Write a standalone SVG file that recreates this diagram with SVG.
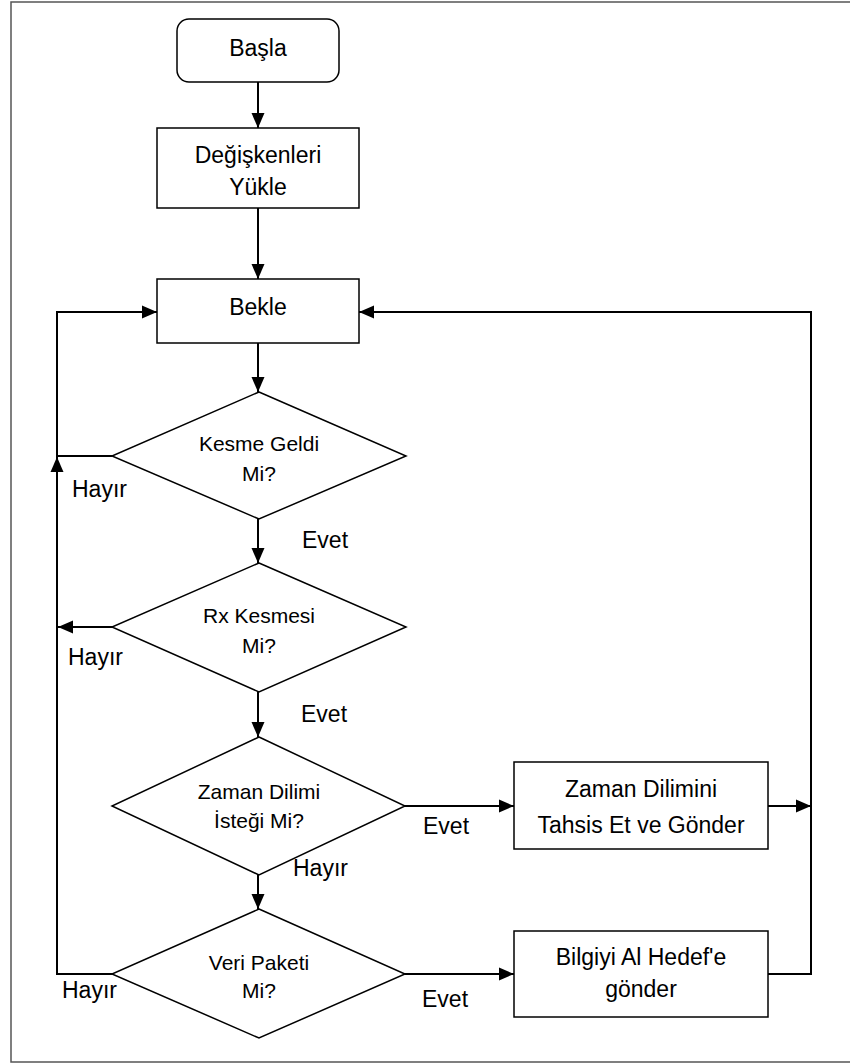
<svg xmlns="http://www.w3.org/2000/svg" width="850" height="1064" viewBox="0 0 850 1064">
  <style>
    .frame { fill: none; stroke: #555; stroke-width: 1.5; }
    .box { fill: #fff; stroke: #000; stroke-width: 1.5; }
    .conn { fill: none; stroke: #000; stroke-width: 2; }
    text { font-family: "Liberation Sans", Arial, sans-serif; fill: #000; text-anchor: middle; }
    .t-box { font-size: 23px; }
    .t-dec { font-size: 21px; }
    .t-lbl { font-size: 23px; text-anchor: start; }
  </style>
  <defs>
    <marker id="arrow" markerUnits="userSpaceOnUse" markerWidth="16" markerHeight="16" viewBox="0 0 16 16" refX="15" refY="8" orient="auto">
      <path d="M0,1.5 L15,8 L0,14.5 Z" fill="#000"/>
    </marker>
  </defs>

  <rect class="frame" x="11" y="2" width="850" height="1060"/>

  <!-- connectors -->
  <g id="connectors">
    <path class="conn" d="M258,82 V128" marker-end="url(#arrow)"/>
    <path class="conn" d="M258,208 V279" marker-end="url(#arrow)"/>
    <path class="conn" d="M258,343 V392" marker-end="url(#arrow)"/>
    <path class="conn" d="M258,519 V563" marker-end="url(#arrow)"/>
    <path class="conn" d="M258,692 V737" marker-end="url(#arrow)"/>
    <path class="conn" d="M258,875 V909" marker-end="url(#arrow)"/>
    <!-- "no" branches back to the wait state -->
    <path class="conn" d="M112,456 H57 V312 H157" marker-end="url(#arrow)"/>
    <path class="conn" d="M112,627 H58" marker-end="url(#arrow)"/>
    <path class="conn" d="M112,974 H57 V457" marker-end="url(#arrow)"/>
    <!-- "yes" branches to the action boxes -->
    <path class="conn" d="M405,806 H514" marker-end="url(#arrow)"/>
    <path class="conn" d="M405,974 H514" marker-end="url(#arrow)"/>
    <!-- return path to the wait state -->
    <path class="conn" d="M768,806 H811" marker-end="url(#arrow)"/>
    <path class="conn" d="M768,974 H811 V312 H359" marker-end="url(#arrow)"/>
  </g>

  <g id="start">
    <rect class="box" x="177" y="19" width="162" height="63" rx="12" ry="12"/>
    <text class="t-box" x="258" y="56">Başla</text>
  </g>

  <g id="load-vars">
    <rect class="box" x="157" y="128" width="202" height="80"/>
    <text class="t-box" x="258" y="163">Değişkenleri</text>
    <text class="t-box" x="258" y="195">Yükle</text>
  </g>

  <g id="wait">
    <rect class="box" x="157" y="279" width="202" height="64"/>
    <text class="t-box" x="258" y="315">Bekle</text>
  </g>

  <g id="interrupt-check">
    <polygon class="box" points="259,392 406,456 259,519 112,456"/>
    <text class="t-dec" x="259" y="451">Kesme Geldi</text>
    <text class="t-dec" x="259" y="481">Mi?</text>
  </g>

  <g id="rx-check">
    <polygon class="box" points="259,563 406,627 259,692 112,627"/>
    <text class="t-dec" x="259" y="623">Rx Kesmesi</text>
    <text class="t-dec" x="259" y="653">Mi?</text>
  </g>

  <g id="slot-request-check">
    <polygon class="box" points="259,737 405,806 259,875 112,806"/>
    <text class="t-dec" x="259" y="799">Zaman Dilimi</text>
    <text class="t-dec" x="259" y="828">İsteği Mi?</text>
  </g>

  <g id="data-packet-check">
    <polygon class="box" points="259,909 405,974 259,1038 112,974"/>
    <text class="t-dec" x="259" y="970">Veri Paketi</text>
    <text class="t-dec" x="259" y="998">Mi?</text>
  </g>

  <g id="allocate-slot">
    <rect class="box" x="514" y="762" width="254" height="87"/>
    <text class="t-box" x="641" y="797">Zaman Dilimini</text>
    <text class="t-box" x="641" y="833">Tahsis Et ve Gönder</text>
  </g>

  <g id="forward-data">
    <rect class="box" x="514" y="931" width="254" height="86"/>
    <text class="t-box" x="641" y="965">Bilgiyi Al Hedef'e</text>
    <text class="t-box" x="641" y="997">gönder</text>
  </g>

  <!-- branch labels -->
  <g id="labels">
    <text class="t-lbl" x="72" y="497">Hayır</text>
    <text class="t-lbl" x="302" y="548">Evet</text>
    <text class="t-lbl" x="68" y="665">Hayır</text>
    <text class="t-lbl" x="301" y="722">Evet</text>
    <text class="t-lbl" x="293" y="876">Hayır</text>
    <text class="t-lbl" x="423" y="834">Evet</text>
    <text class="t-lbl" x="62" y="998">Hayır</text>
    <text class="t-lbl" x="422" y="1007">Evet</text>
  </g>
</svg>
